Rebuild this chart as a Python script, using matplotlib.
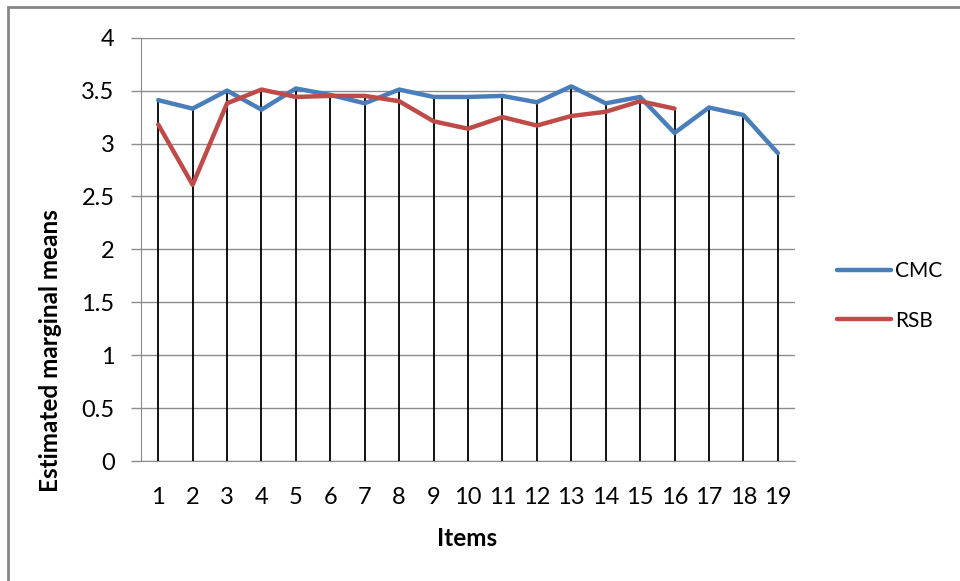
import numpy as np
import matplotlib
matplotlib.use("Agg")
import matplotlib.pyplot as plt
from matplotlib.patches import Rectangle

items = list(range(1, 20))
cmc = [3.41, 3.33, 3.50, 3.32, 3.52, 3.46, 3.38, 3.51, 3.44, 3.44,
       3.45, 3.39, 3.54, 3.38, 3.44, 3.10, 3.34, 3.27, 2.91]
rsb = [3.18, 2.61, 3.38, 3.51, 3.44, 3.45, 3.45, 3.40, 3.21, 3.14,
       3.25, 3.17, 3.26, 3.30, 3.40, 3.33]
yticks = [0, 0.5, 1, 1.5, 2, 2.5, 3, 3.5, 4]
ytick_labels = ["0", "0.5", "1", "1.5", "2", "2.5", "3", "3.5", "4"]

plt.rcParams['font.family'] = ['Lato', 'DejaVu Sans']

W, H = 960, 581
fig = plt.figure(figsize=(W / 100, H / 100), dpi=100)
fig.patch.set_facecolor("white")

# outer chart border
fig.patches.append(Rectangle((8 / W, -0.1), 1.2, 1 - 7 / H + 0.1,
                             transform=fig.transFigure, fill=False,
                             edgecolor="#868686", linewidth=2))

left, right, top, bottom = 141, 795, 37.7, 461
ax = fig.add_axes([left / W, 1 - bottom / H, (right - left) / W, (bottom - top) / H])

x = np.array(items)
cmc_a = np.array(cmc)
rsb_a = np.full(len(items), np.nan)
rsb_a[:len(rsb)] = rsb
tops = np.fmax(cmc_a, rsb_a)

ax.set_xlim(0.5, 19.5)
ax.set_ylim(0, 4)
ax.set_yticks(yticks)
ax.set_yticklabels(ytick_labels)
ax.set_xticks(items)
ax.set_xticklabels([str(i) for i in items])
ax.yaxis.grid(True, color="#8c8c8c", linewidth=1)
ax.set_axisbelow(True)

ax.vlines(x, 0, tops, colors="black", linewidth=1.3, zorder=2)
ax.plot(x, cmc_a, color="#4A7EBB", linewidth=3.2, label="CMC", zorder=3,
        solid_joinstyle="round", solid_capstyle="round")
ax.plot(x, rsb_a, color="#BE4B48", linewidth=3.2, label="RSB", zorder=3,
        solid_joinstyle="round", solid_capstyle="round")

for s in ["top", "right"]:
    ax.spines[s].set_visible(False)
ax.spines["left"].set_color("#8c8c8c")
ax.spines["bottom"].set_color("#8c8c8c")
ax.tick_params(axis="y", length=7, width=1, color="#8c8c8c", labelsize=17, pad=12)
ax.tick_params(axis="x", length=0, labelsize=17, pad=19)

ax.set_xlabel("Items", fontsize=17.5, fontweight="bold")
ax.set_ylabel("Estimated marginal means", fontsize=17.5, fontweight="bold")
ax.xaxis.set_label_coords((467 - left) / (right - left), (bottom - 527) / (bottom - top))
ax.yaxis.set_label_coords((62 - left) / (right - left), (bottom - 351) / (bottom - top))

leg = fig.legend(loc="center left", bbox_to_anchor=(818 / W, 1 - 296 / H),
                 frameon=False, fontsize=15, handlelength=2.6,
                 handletextpad=0.2, labelspacing=1.4)

fig.savefig("out.png", dpi=100)
